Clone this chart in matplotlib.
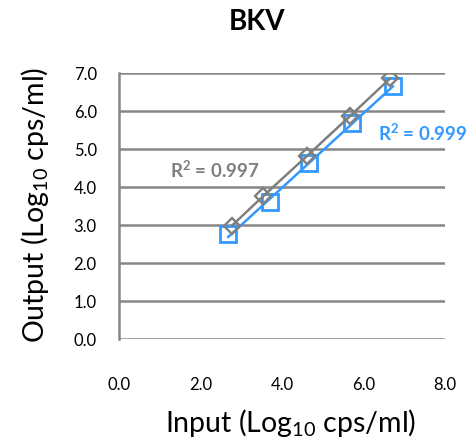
import numpy as np
import matplotlib
matplotlib.use("Agg")
import matplotlib.pyplot as plt

plt.rcParams["font.family"] = ["Lato", "DejaVu Sans"]
plt.rcParams["mathtext.fontset"] = "custom"
plt.rcParams["mathtext.rm"] = "Lato"
plt.rcParams["mathtext.it"] = "Lato:italic"
plt.rcParams["mathtext.bf"] = "Lato:bold"

# values
gray_x = [2.77, 3.54, 4.62, 5.67, 6.65]
gray_y = [2.98, 3.77, 4.82, 5.86, 6.86]
blue_x = [2.68, 3.71, 4.67, 5.73, 6.72]
blue_y = [2.76, 3.60, 4.63, 5.68, 6.67]
gray_r2 = r"R$^{\mathbf{2}}$ = 0.997"
blue_r2 = r"R$^{\mathbf{2}}$ = 0.999"
x_ticks = [0, 2, 4, 6, 8]
y_ticks = [0, 1, 2, 3, 4, 5, 6, 7]

GRAY = "#7f7f7f"
BLUE = "#3399ff"
GRID = "#868686"

fig = plt.figure(figsize=(4.77, 4.39), dpi=100)
ax = fig.add_axes([119 / 477, 1 - 340 / 439, 326 / 477, 266 / 439])

for yv in y_ticks:
    ax.axhline(yv, color=GRID, lw=1.8, zorder=0)

# blue series: squares + linear trendline
bx, by = np.array(blue_x), np.array(blue_y)
b = np.polyfit(bx, by, 1)
ax.plot(bx, np.polyval(b, bx), color=BLUE, lw=1.8, zorder=2)
ax.plot(bx, by, "s", ms=12, mfc="none", mec=BLUE, mew=2, zorder=3)

# gray series: diamonds, connecting line + trendline
gx, gy = np.array(gray_x), np.array(gray_y)
g = np.polyfit(gx, gy, 1)
ax.plot(gx, gy, color=GRAY, lw=1.5, zorder=4)
ax.plot(gx, np.polyval(g, gx), color=GRAY, lw=1.5, zorder=4)
ax.plot(gx, gy, "D", ms=8, mfc="none", mec=GRAY, mew=1.7, zorder=5)

ax.text(2.36, 4.47, gray_r2, color=GRAY, fontsize=13.5, fontweight="bold",
        ha="center", va="center")
ax.text(7.46, 5.45, blue_r2, color=BLUE, fontsize=13.5, fontweight="bold",
        ha="center", va="center")

ax.set_xlim(0, 8)
ax.set_ylim(0, 7)
ax.set_xticks(x_ticks)
ax.set_yticks(y_ticks)
ax.set_xticklabels([f"{v:.1f}" for v in x_ticks])
ax.set_yticklabels([f"{v:.1f}" for v in y_ticks])
ax.tick_params(axis="x", length=0, pad=27, labelsize=12)
ax.tick_params(axis="y", length=0, pad=16, labelsize=12)
for s in ["top", "right", "bottom"]:
    ax.spines[s].set_visible(False)
ax.spines["left"].set_color(GRID)
ax.spines["left"].set_linewidth(1.8)

ax.set_xlabel("Input (Log$_{10}$ cps/ml)", fontsize=20.5)
ax.xaxis.label.set_va("center")
ax.xaxis.set_label_coords(0.525, -0.312)
ax.set_ylabel("Output (Log$_{10}$ cps/ml)", fontsize=20.5)
ax.yaxis.label.set_va("center")
ax.yaxis.set_label_coords(-0.258, 0.507)

fig.text(257 / 477, 1 - 22 / 439, "BKV", fontsize=20, fontweight="bold",
         ha="center", va="center")

fig.savefig("out.png", dpi=100)
